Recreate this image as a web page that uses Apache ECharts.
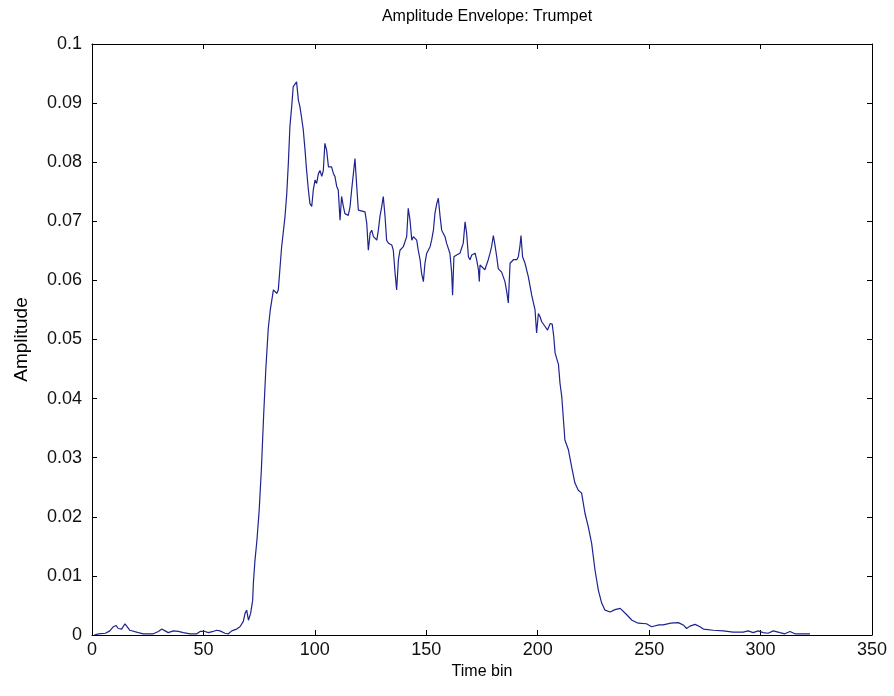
<!DOCTYPE html>
<html>
<head>
<meta charset="utf-8">
<script src="https://cdn.jsdelivr.net/npm/echarts@6/dist/echarts.min.js"></script>
<style>html,body{margin:0;padding:0;background:#fff}#c{width:894px;height:696px}</style>
</head>
<body>
<div id="c"></div>
<script>
const timeBins = [1,3,6,8,9.6,10.8,11.8,13.3,14.8,17,20.8,23,27.5,29.8,31.3,32.8,34.2,36.5,38.7,41,44,47,48.5,50.7,52.2,54.4,55.9,57.4,59.7,61.2,62.7,64.9,66.4,67.9,68.7,69.4,70.2,71.2,72.1,72.4,73.1,74,75,76,77,78,79.1,80,81.4,82.9,83.6,84.4,85.1,86.6,87.4,88.1,88.8,89.6,90.3,91.8,92.6,93.3,94.1,94.8,95.6,96.3,97.1,97.8,98.6,99.3,100.1,100.8,101.6,102.3,103.1,103.8,104.5,105.3,106.1,107.5,108.3,109,109.8,110.5,111.3,112,112.8,113.5,114.3,115,115.8,116.5,117.3,118,118.8,119.5,120.3,122.5,123.3,124,124.8,125.5,126.3,127.8,128.5,129.2,130,130.7,131.5,132.2,133,134.5,135.2,136,136.7,137.5,138.2,139.7,141.2,141.9,142.7,143.5,144.2,145.7,146.4,147.2,147.9,148.7,149.4,150.2,151.7,152.4,153.2,153.9,154.7,155.4,156.2,156.9,158.4,159.1,160.6,161.4,161.8,162.4,163.6,165.1,166.6,167.4,168.1,168.9,169.6,170.4,171.9,172.6,173.4,173.8,174.1,174.8,176.3,177.8,178.6,179.3,180.1,180.8,181.6,182.3,183.8,184.6,185.3,186.1,186.8,187.6,189.1,190.6,191.3,192,192.5,193.2,194.3,195.8,197.3,198.8,199.5,200.3,201,201.8,203.3,204.4,205.6,206.5,207.2,207.8,209.3,210,210.8,212.2,213.8,215.2,216.7,218.2,219.7,221.2,222.7,224.2,225.7,227.2,228.7,230.2,232.5,234.7,237,239.5,242.3,245.1,248.8,251.1,254.4,256.3,259.7,263.1,265.3,266.8,268.3,270.6,272.8,274.3,278.8,283.3,287.7,292.2,294.4,296.7,298.9,301.2,303.4,305.7,308.7,310.9,313.2,315.4,322.2];
const amplitudes = [0,0.0002,0.0003,0.0007,0.0014,0.0016,0.0011,0.0010,0.0019,0.0008,0.0004,0.0002,0.0002,0.0006,0.0010,0.0007,0.0004,0.0007,0.0006,0.0004,0.0002,0.0002,0.0006,0.0006,0.0004,0.0006,0.0008,0.0007,0.0003,0.0002,0.0007,0.0010,0.0014,0.0023,0.0037,0.0042,0.0025,0.0037,0.0059,0.0087,0.0125,0.016,0.021,0.028,0.037,0.045,0.0519,0.055,0.0584,0.0578,0.0584,0.0623,0.0657,0.0708,0.0747,0.0798,0.0860,0.0894,0.0928,0.0936,0.0905,0.0894,0.0874,0.0855,0.0820,0.0786,0.0753,0.0730,0.0725,0.0753,0.0770,0.0764,0.0781,0.0786,0.0776,0.0786,0.0832,0.0820,0.0792,0.0792,0.0781,0.0776,0.0759,0.0753,0.0702,0.0742,0.0725,0.0713,0.0716,0.0710,0.0725,0.0753,0.0781,0.0806,0.0759,0.0719,0.0716,0.0716,0.0696,0.0651,0.0680,0.0685,0.0674,0.0668,0.0685,0.0708,0.0725,0.0742,0.0708,0.0668,0.0663,0.0660,0.0651,0.0612,0.0584,0.0635,0.0651,0.0657,0.0674,0.0722,0.0702,0.0668,0.0674,0.0668,0.0651,0.0635,0.0612,0.0598,0.0629,0.0646,0.0657,0.0668,0.0685,0.0714,0.0730,0.0739,0.0708,0.0685,0.0674,0.0663,0.0646,0.0612,0.0575,0.0640,0.0643,0.0646,0.0663,0.0699,0.0680,0.0640,0.0635,0.0643,0.0646,0.0635,0.0618,0.0598,0.0626,0.0623,0.0618,0.0635,0.0646,0.0657,0.0676,0.0660,0.0640,0.0620,0.0614,0.0612,0.0598,0.0581,0.0562,0.0629,0.0635,0.0635,0.0640,0.0657,0.0676,0.0640,0.0629,0.0606,0.0575,0.0550,0.0511,0.0544,0.0539,0.0530,0.0522,0.0516,0.0527,0.0526,0.0505,0.0477,0.0458,0.0426,0.0403,0.0330,0.0313,0.0285,0.0257,0.0245,0.0240,0.0206,0.0183,0.0155,0.0110,0.0076,0.0054,0.0042,0.0039,0.0043,0.0045,0.0036,0.0025,0.0020,0.0019,0.0014,0.0017,0.0017,0.0020,0.0021,0.0017,0.0011,0.0015,0.0018,0.0014,0.0010,0.0008,0.0007,0.0005,0.0005,0.0007,0.0004,0.0007,0.0004,0.0003,0.0007,0.0004,0.0002,0.0006,0.0002,0.0002];
const xTicks = [0,50,100,150,200,250,300,350];
const yTicks = [0,0.01,0.02,0.03,0.04,0.05,0.06,0.07,0.08,0.09,0.1];
const titleText = 'Amplitude Envelope: Trumpet';
const xLabel = 'Time bin';
const yLabel = 'Amplitude';

const chart = echarts.init(document.getElementById('c'), null, {renderer: 'canvas'});
const font = 'Liberation Sans, Arial, sans-serif';
const axisLine = {show: true, onZero: false, lineStyle: {color: '#000', width: 1}};
const tick = {show: true, inside: true, length: 5, lineStyle: {color: '#000'}};
const lbl = {color: '#111', fontSize: 18, fontFamily: font};
chart.setOption({
  animation: false,
  backgroundColor: '#fff',
  title: {text: titleText, left: 482, top: 4, textAlign: 'center',
    textStyle: {color: '#000', fontSize: 16, fontWeight: 'normal', fontFamily: font}},
  grid: {left: 92, right: 22, top: 44, bottom: 61, containLabel: false},
  xAxis: [
    {type: 'value', min: xTicks[0], max: xTicks[xTicks.length-1], interval: 50, position: 'bottom',
      name: xLabel, nameLocation: 'middle', nameGap: 20, nameTextStyle: {color: '#000', fontSize: 16, fontFamily: font},
      axisLine, axisTick: tick, axisLabel: Object.assign({margin: 6}, lbl), splitLine: {show: false}},
    {type: 'value', min: xTicks[0], max: xTicks[xTicks.length-1], interval: 50, position: 'top',
      axisLine, axisTick: tick, axisLabel: {show: false}, splitLine: {show: false}}
  ],
  yAxis: [
    {type: 'value', min: yTicks[0], max: yTicks[yTicks.length-1], interval: 0.01, position: 'left',
      name: yLabel, nameLocation: 'middle', nameGap: 61, nameRotate: 90, nameTextStyle: {color: '#000', fontSize: 19, fontFamily: font},
      axisLine, axisTick: tick, axisLabel: Object.assign({margin: 10, formatter: v => String(+v.toFixed(2))}, lbl), splitLine: {show: false}},
    {type: 'value', min: yTicks[0], max: yTicks[yTicks.length-1], interval: 0.01, position: 'right',
      axisLine, axisTick: tick, axisLabel: {show: false}, splitLine: {show: false}}
  ],
  series: [{
    type: 'line', xAxisIndex: 0, yAxisIndex: 0, showSymbol: false, symbol: 'none',
    lineStyle: {color: '#1d2390', width: 1.2},
    data: timeBins.map((t, i) => [t, amplitudes[i]])
  }]
});
</script>
</body>
</html>
